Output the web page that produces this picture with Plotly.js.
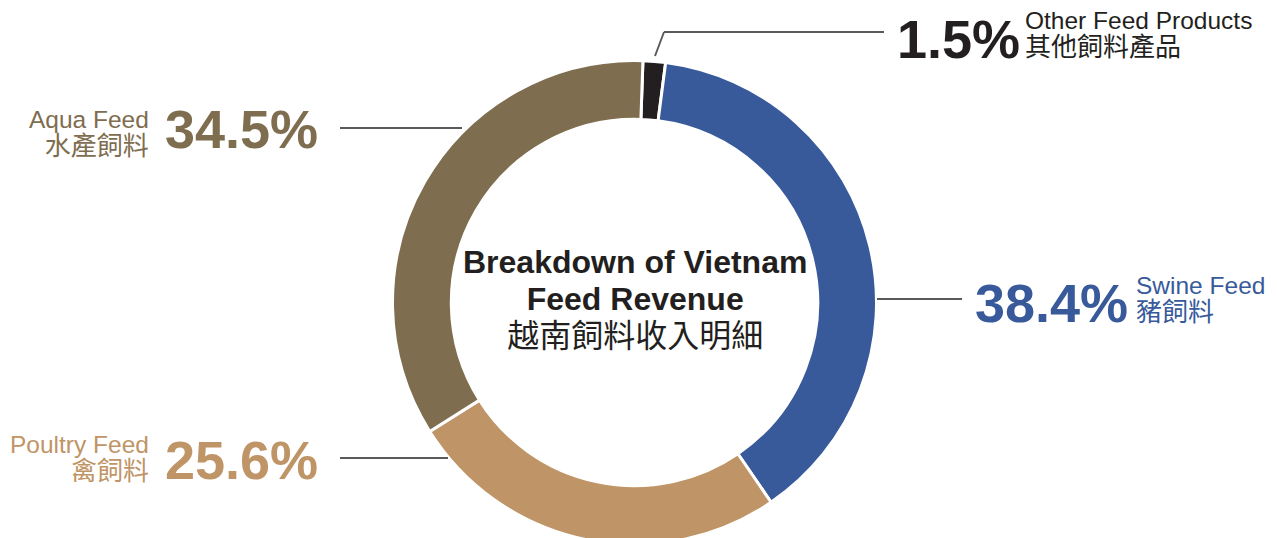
<!DOCTYPE html>
<html>
<head>
<meta charset="utf-8">
<script src="https://cdn.plot.ly/plotly-3.0.1.min.js"></script>
<style>
html,body{margin:0;padding:0;overflow:hidden;background:#fff;}
#chart{width:1277px;height:604px;}
</style>
</head>
<body>
<div id="chart"></div>
<script>
// ---- data ----
const categoriesEn = ["Other Feed Products", "Swine Feed", "Poultry Feed", "Aqua Feed"];
const categoriesZh = ["其他飼料產品", "豬飼料", "禽飼料", "水產飼料"];
const shares = [1.5, 38.4, 25.6, 34.5];
const colors = ["#231f20", "#385a9b", "#bf9466", "#7e6d4f"];
const centerTitleEn = ["Breakdown of Vietnam", "Feed Revenue"];
const centerTitleZh = "越南飼料收入明細";

// ---- layout helpers (pixel -> paper) ----
const W = 1277, H = 604;
const px = x => x / W;
const py = y => 1 - y / H;
const LAT = "Liberation Sans, Arial, Helvetica, sans-serif";
const CJK = "Noto Sans CJK TC, Noto Sans CJK SC, sans-serif";
const CJKCSS = "'Noto Sans CJK TC','Noto Sans CJK SC',sans-serif";

const cx = 634.5, cy = 302.5, R = 242;

const trace = {
  type: "pie",
  labels: categoriesEn,
  values: shares,
  sort: false,
  direction: "clockwise",
  rotation: 2,
  hole: 0.757,
  marker: {colors: colors, line: {color: "#ffffff", width: 3}},
  textinfo: "none",
  hoverinfo: "label+percent",
  showlegend: false,
  domain: {x: [px(cx - R), px(cx + R)], y: [py(cy + R), py(cy - R)]}
};

function pctText(i){ return shares[i].toFixed(1) + "%"; }

const ann = [];
function addPct(i, x, y){
  ann.push({
    text: "<b>" + pctText(i) + "</b>",
    x: px(x), y: py(y), xref: "paper", yref: "paper",
    xanchor: "left", yanchor: "middle", showarrow: false,
    font: {family: LAT, size: 54, color: colors[i]}
  });
}
function addLabel(i, x, y, xa){
  const txt = "<span style='font-size:24.5px'>" + categoriesEn[i] + "</span><br>" +
              "<span style=\"font-size:26px;font-family:" + CJKCSS + "\">" + categoriesZh[i] + "</span>";
  ann.push({
    text: txt,
    x: px(x), y: py(y), xref: "paper", yref: "paper",
    xanchor: xa, yanchor: "middle", align: xa, showarrow: false,
    font: {family: LAT, size: 20.8, color: colors[i]}
  });
}
// Other
addPct(0, 895, 39);
addLabel(0, 1023, 35, "left");
// Swine
addPct(1, 973, 303);
addLabel(1, 1134, 300, "left");
// Poultry
addPct(2, 163, 460);
addLabel(2, 151, 459, "right");
// Aqua
addPct(3, 163, 129);
addLabel(3, 151, 134, "right");
// Center
const centerTxt =
  "<span style='font-size:32px'><b>" + centerTitleEn[0] + "</b></span><br>" +
  "<span style='font-size:32px'><b>" + centerTitleEn[1] + "</b></span><br>" +
  "<span style=\"font-size:32px;font-family:" + CJKCSS + "\">" + centerTitleZh + "</span>";
ann.push({
  text: centerTxt,
  x: px(cx), y: py(300), xref: "paper", yref: "paper",
  xanchor: "center", yanchor: "middle", showarrow: false, align: "center",
  font: {family: LAT, size: 28.5, color: "#231f20"}
});

const lc = {color: "#5a5a5a", width: 2};
function seg(x0, y0, x1, y1){
  return {type: "line", xref: "paper", yref: "paper", x0: px(x0), y0: py(y0), x1: px(x1), y1: py(y1), line: lc};
}
const shapes = [
  seg(340, 128, 462, 128),
  seg(340, 458, 448, 458),
  seg(877, 299, 962, 299),
  seg(655, 56, 664, 32),
  seg(664, 32, 884, 32)
];

const layout = {
  width: W, height: H,
  margin: {l: 0, r: 0, t: 0, b: 0},
  paper_bgcolor: "#ffffff",
  plot_bgcolor: "#ffffff",
  annotations: ann,
  shapes: shapes,
  showlegend: false
};

Plotly.newPlot("chart", [trace], layout, {displayModeBar: false, staticPlot: true});
</script>
</body>
</html>
